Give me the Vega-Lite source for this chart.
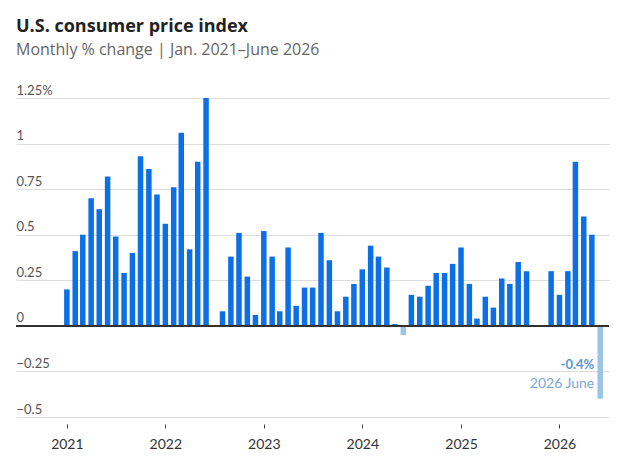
{
  "$schema": "https://vega.github.io/schema/vega-lite/v6.json",
  "autosize": {"type": "none"},
  "padding": {"left": 16, "top": 98, "right": 15, "bottom": 47},
  "width": 593,
  "height": 319,
  "title": {
    "text": "U.S. consumer price index",
    "subtitle": "Monthly % change | Jan. 2021–June 2026",
    "anchor": "start",
    "frame": "group",
    "font": "Open Sans",
    "fontSize": 18,
    "fontWeight": "bold",
    "color": "#222222",
    "subtitleFont": "Open Sans",
    "subtitleFontSize": 16,
    "subtitleColor": "#666666",
    "subtitlePadding": 6,
    "offset": 26
  },
  "data": {
    "values": [
      {"date": "2021-01-01", "value": 0.20},
      {"date": "2021-02-01", "value": 0.41},
      {"date": "2021-03-01", "value": 0.50},
      {"date": "2021-04-01", "value": 0.70},
      {"date": "2021-05-01", "value": 0.64},
      {"date": "2021-06-01", "value": 0.82},
      {"date": "2021-07-01", "value": 0.49},
      {"date": "2021-08-01", "value": 0.29},
      {"date": "2021-09-01", "value": 0.40},
      {"date": "2021-10-01", "value": 0.93},
      {"date": "2021-11-01", "value": 0.86},
      {"date": "2021-12-01", "value": 0.72},
      {"date": "2022-01-01", "value": 0.56},
      {"date": "2022-02-01", "value": 0.76},
      {"date": "2022-03-01", "value": 1.06},
      {"date": "2022-04-01", "value": 0.42},
      {"date": "2022-05-01", "value": 0.90},
      {"date": "2022-06-01", "value": 1.25},
      {"date": "2022-07-01", "value": 0.00},
      {"date": "2022-08-01", "value": 0.08},
      {"date": "2022-09-01", "value": 0.38},
      {"date": "2022-10-01", "value": 0.51},
      {"date": "2022-11-01", "value": 0.27},
      {"date": "2022-12-01", "value": 0.06},
      {"date": "2023-01-01", "value": 0.52},
      {"date": "2023-02-01", "value": 0.38},
      {"date": "2023-03-01", "value": 0.08},
      {"date": "2023-04-01", "value": 0.43},
      {"date": "2023-05-01", "value": 0.11},
      {"date": "2023-06-01", "value": 0.21},
      {"date": "2023-07-01", "value": 0.21},
      {"date": "2023-08-01", "value": 0.51},
      {"date": "2023-09-01", "value": 0.36},
      {"date": "2023-10-01", "value": 0.08},
      {"date": "2023-11-01", "value": 0.16},
      {"date": "2023-12-01", "value": 0.23},
      {"date": "2024-01-01", "value": 0.31},
      {"date": "2024-02-01", "value": 0.44},
      {"date": "2024-03-01", "value": 0.38},
      {"date": "2024-04-01", "value": 0.32},
      {"date": "2024-05-01", "value": 0.01},
      {"date": "2024-06-01", "value": -0.05},
      {"date": "2024-07-01", "value": 0.17},
      {"date": "2024-08-01", "value": 0.16},
      {"date": "2024-09-01", "value": 0.22},
      {"date": "2024-10-01", "value": 0.29},
      {"date": "2024-11-01", "value": 0.29},
      {"date": "2024-12-01", "value": 0.34},
      {"date": "2025-01-01", "value": 0.43},
      {"date": "2025-02-01", "value": 0.23},
      {"date": "2025-03-01", "value": 0.04},
      {"date": "2025-04-01", "value": 0.16},
      {"date": "2025-05-01", "value": 0.10},
      {"date": "2025-06-01", "value": 0.26},
      {"date": "2025-07-01", "value": 0.23},
      {"date": "2025-08-01", "value": 0.35},
      {"date": "2025-09-01", "value": 0.30},
      {"date": "2025-12-01", "value": 0.30},
      {"date": "2026-01-01", "value": 0.17},
      {"date": "2026-02-01", "value": 0.30},
      {"date": "2026-03-01", "value": 0.90},
      {"date": "2026-04-01", "value": 0.60},
      {"date": "2026-05-01", "value": 0.50},
      {"date": "2026-06-01", "value": -0.40, "label": "-0.4%", "sub": "2026 June"}
    ]
  },
  "encoding": {
    "x": {
      "field": "date",
      "type": "temporal",
      "scale": {
        "type": "utc",
        "domain": [
          {"year": 2020, "month": 7, "date": 15, "utc": true},
          {"year": 2026, "month": 6, "date": 15, "utc": true}
        ]
      },
      "axis": {
        "title": null,
        "format": "%Y",
        "tickCount": {"interval": "year", "step": 1},
        "domain": false,
        "grid": false,
        "ticks": true,
        "tickSize": 4,
        "tickColor": "#444444",
        "offset": 7,
        "labelPadding": 9,
        "labelFontSize": 14,
        "labelColor": "#333333"
      }
    },
    "y": {
      "field": "value",
      "type": "quantitative",
      "scale": {"domain": [-0.5, 1.25], "nice": false},
      "axis": {
        "title": null,
        "values": [-0.5, -0.25, 0, 0.25, 0.5, 0.75, 1, 1.25],
        "labelExpr": "datum.value == 1.25 ? '1.25%' : format(datum.value, '')",
        "domain": false,
        "ticks": false,
        "labelAlign": "left",
        "labelBaseline": "alphabetic",
        "labelPadding": 0,
        "labelOffset": -4,
        "labelBound": false,
        "labelFlush": false,
        "labelFontSize": 13,
        "labelColor": "#555555",
        "gridColor": "#dddddd",
        "gridWidth": 1
      }
    }
  },
  "layer": [
    {
      "mark": {"type": "bar", "size": 5.5},
      "encoding": {
        "color": {
          "condition": {"test": "datum.value < 0", "value": "#9cc3e8"},
          "value": "#0d6fe6"
        }
      }
    },
    {
      "mark": {"type": "rule", "color": "#333333", "strokeWidth": 1},
      "encoding": {
        "y": {"datum": 0},
        "x": null
      }
    },
    {
      "transform": [{"filter": "datum.label != null"}],
      "mark": {
        "type": "text",
        "align": "right",
        "baseline": "alphabetic",
        "dx": -6,
        "dy": -30,
        "fontSize": 13,
        "fontWeight": "bold",
        "color": "#5b95d5"
      },
      "encoding": {"text": {"field": "label"}}
    },
    {
      "transform": [{"filter": "datum.sub != null"}],
      "mark": {
        "type": "text",
        "align": "right",
        "baseline": "alphabetic",
        "dx": -6,
        "dy": -11,
        "fontSize": 14,
        "color": "#7aa9dc"
      },
      "encoding": {"text": {"field": "sub"}}
    }
  ],
  "config": {
    "font": "Lato",
    "view": {"stroke": null}
  }
}
